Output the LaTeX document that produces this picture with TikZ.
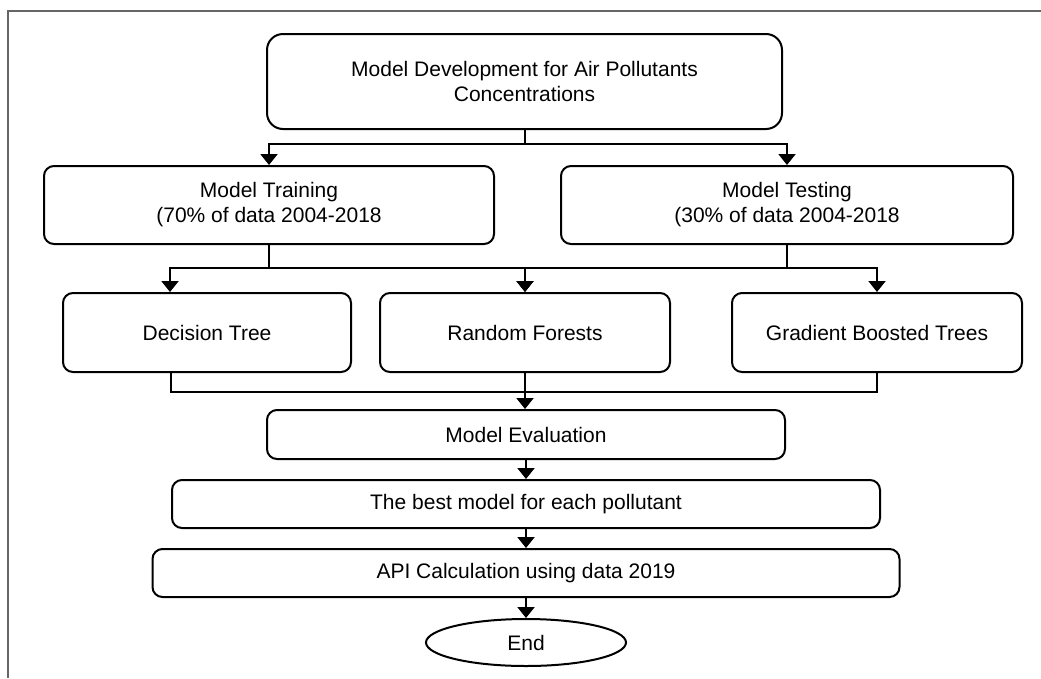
\documentclass[tikz,border=0pt]{standalone}
\usepackage{fontspec}
\setmainfont{Liberation Sans}
\usetikzlibrary{arrows.meta,positioning,shapes.geometric}

\begin{document}
\begin{tikzpicture}[
            x = 1pt, y = -1pt, % one unit per pixel, y going down
            > = {Triangle[width=17pt,length=11pt]}, % arrow head style
            node distance = 19pt, % gap between the lower boxes
            line width = 2pt, % line style
            font = \fontsize{21}{25}\selectfont,
            box/.style = {draw, rounded corners=10pt, align=center, inner sep=0pt},
            bigbox/.style = {box, rounded corners=16pt}
        ]

	\useasboundingbox (0,0) rectangle (1041,678);
	\draw[black!60, line width=1.5pt] (8,678) -- (8,11) -- (1041,11);

	\node[bigbox, minimum width=515pt, minimum height=95pt] (top) at (524.5,81.5) {Model Development for Air Pollutants\\Concentrations};
	\node[box, minimum width=450pt, minimum height=78pt] (train) at (269,205) {Model Training\\(70\% of data 2004-2018};
	\node[box, minimum width=452pt, minimum height=78pt] (test) at (787,205) {Model Testing\\(30\% of data 2004-2018};
	\node[box, minimum width=288pt, minimum height=79pt] (dt) at (207,332.5) {Decision Tree};
	\node[box, minimum width=290pt, minimum height=79pt] (rf) at (525,332.5) {Random Forests};
	\node[box, minimum width=290pt, minimum height=79pt] (gbt) at (877,332.5) {Gradient Boosted Trees};
	\node[box, minimum width=518pt, minimum height=49pt] (eval) at (526,434.5) {Model Evaluation};
	\node[box, minimum width=708pt, minimum height=48pt] (best) [below=of eval] {The best model for each pollutant};
	\node[box, minimum width=747pt, minimum height=48pt] (api) [below=of best] {API Calculation using data 2019};
	\node[draw, ellipse, minimum width=200pt, minimum height=47pt, inner sep=0pt] (finish) [below=20pt of api] {End};

	\coordinate (fork1) at (524.5,144);
	\coordinate (fork2) at (269,268);
	\coordinate (fork3) at (787,268);

	\draw (top) -- (fork1);
	\draw[->] (fork1) -| (train);
	\draw[->] (fork1) -| (test);
	\draw (train) -- (fork2);
	\draw (test) -- (fork3);
	\draw[->] (fork2) -| ([xshift=108pt]dt.north west);
	\draw[->] (fork2) -| (rf);
	\draw[->] (fork3) -| (rf);
	\draw[->] (fork3) -| (gbt);
	\draw ([xshift=109pt]dt.south west) -- ++(0,19) -| (gbt.south);
	\draw[->] (rf) -- (rf.south |- eval.north);
	\draw[->] (eval) -- (best);
	\draw[->] (best) -- (api);
	\draw[->] (api) -- (finish);

\end{tikzpicture}
\end{document}
